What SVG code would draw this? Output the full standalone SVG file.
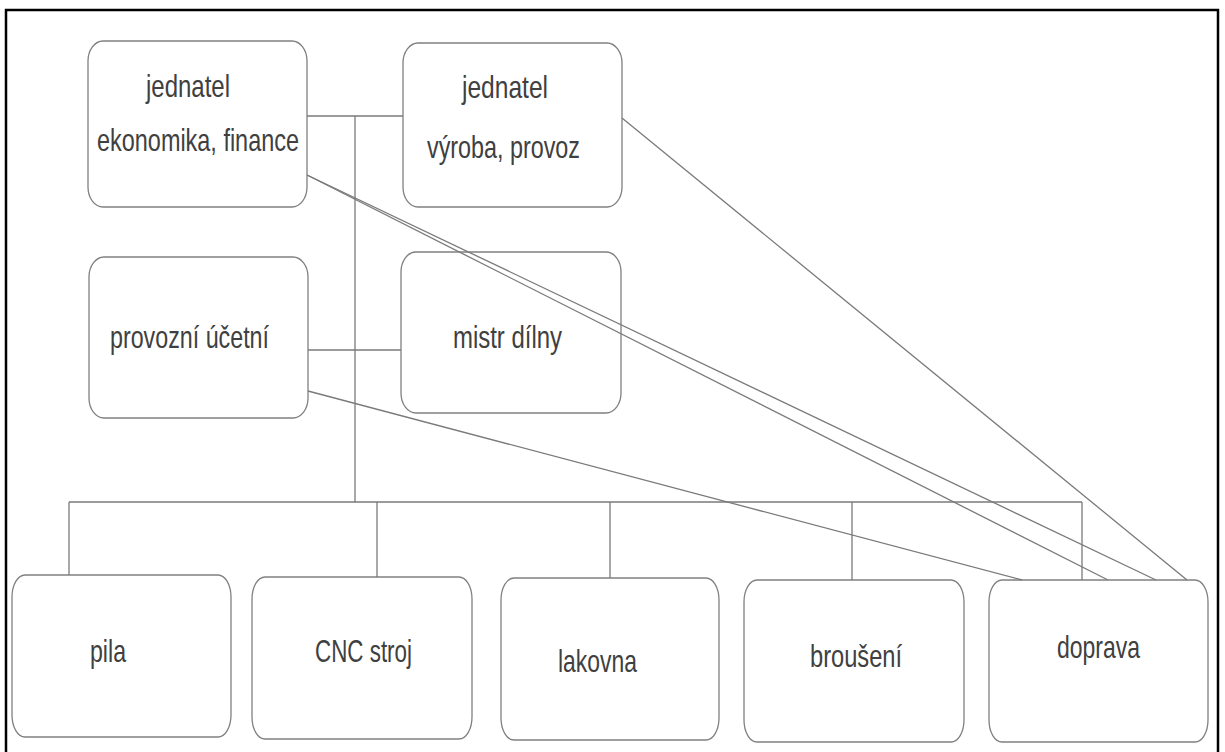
<svg xmlns="http://www.w3.org/2000/svg" width="1225" height="752" viewBox="0 0 1225 752">
<style>
.box{fill:#ffffff;stroke:#808080;stroke-width:1.3}
.lbl{font-family:"Liberation Sans Narrow","Liberation Sans",sans-serif;font-size:32px;fill:#404040}
.con{fill:none;stroke:#7a7a7a;stroke-width:1.3}
.frame{fill:none;stroke:#000000;stroke-width:2.5}
</style>
<rect x="0" y="0" width="1225" height="752" fill="#ffffff"/>
<path class="frame" d="M6,760 V10 H1218 V760"/>
<g id="node-jednatel-ekonomika">
<rect class="box" x="88" y="41" width="219" height="166" rx="15" ry="20"/>
<text class="lbl" x="146" y="97" textLength="84" lengthAdjust="spacingAndGlyphs">jednatel</text>
<text class="lbl" x="97" y="151" textLength="202" lengthAdjust="spacingAndGlyphs">ekonomika, finance</text>
</g>
<g id="node-jednatel-vyroba">
<rect class="box" x="403" y="43" width="219" height="164" rx="15" ry="20"/>
<text class="lbl" x="462" y="98" textLength="86" lengthAdjust="spacingAndGlyphs">jednatel</text>
<text class="lbl" x="427" y="158" textLength="153" lengthAdjust="spacingAndGlyphs">výroba, provoz</text>
</g>
<g id="node-provozni-ucetni">
<rect class="box" x="89" y="257" width="219" height="161" rx="15" ry="20"/>
<text class="lbl" x="110" y="348" textLength="159" lengthAdjust="spacingAndGlyphs">provozní účetní</text>
</g>
<g id="node-mistr-dilny">
<rect class="box" x="401" y="252" width="220" height="161" rx="15" ry="20"/>
<text class="lbl" x="453" y="348" textLength="109" lengthAdjust="spacingAndGlyphs">mistr dílny</text>
</g>
<g id="node-pila">
<rect class="box" x="12" y="575" width="219" height="162" rx="13" ry="22"/>
<text class="lbl" x="90" y="662" textLength="36" lengthAdjust="spacingAndGlyphs">pila</text>
</g>
<g id="node-cnc-stroj">
<rect class="box" x="252" y="577" width="220" height="162" rx="13" ry="22"/>
<text class="lbl" x="315" y="662" textLength="97" lengthAdjust="spacingAndGlyphs">CNC stroj</text>
</g>
<g id="node-lakovna">
<rect class="box" x="501" y="578" width="218" height="162" rx="13" ry="22"/>
<text class="lbl" x="558" y="672" textLength="79" lengthAdjust="spacingAndGlyphs">lakovna</text>
</g>
<g id="node-brouseni">
<rect class="box" x="744" y="580" width="220" height="162" rx="13" ry="22"/>
<text class="lbl" x="810" y="667" textLength="92" lengthAdjust="spacingAndGlyphs">broušení</text>
</g>
<g id="node-doprava">
<rect class="box" x="989" y="580" width="219" height="162" rx="13" ry="22"/>
<text class="lbl" x="1057" y="658" textLength="83" lengthAdjust="spacingAndGlyphs">doprava</text>
</g>
<g id="connectors">
<line class="con" x1="307" y1="116" x2="403" y2="116"/>
<line class="con" x1="355" y1="116" x2="355" y2="502"/>
<line class="con" x1="308" y1="350" x2="401" y2="350"/>
<line class="con" x1="69" y1="502" x2="1082" y2="502"/>
<line class="con" x1="69" y1="502" x2="69" y2="575"/>
<line class="con" x1="377" y1="502" x2="377" y2="577"/>
<line class="con" x1="610" y1="502" x2="610" y2="578"/>
<line class="con" x1="852" y1="502" x2="852" y2="580"/>
<line class="con" x1="1082" y1="502" x2="1082" y2="580"/>
<line class="con" x1="622" y1="118" x2="1187" y2="580"/>
<line class="con" x1="307" y1="175" x2="1156" y2="580"/>
<line class="con" x1="307" y1="175" x2="1108" y2="580"/>
<line class="con" x1="308" y1="391" x2="1022" y2="580"/>
</g>
</svg>
